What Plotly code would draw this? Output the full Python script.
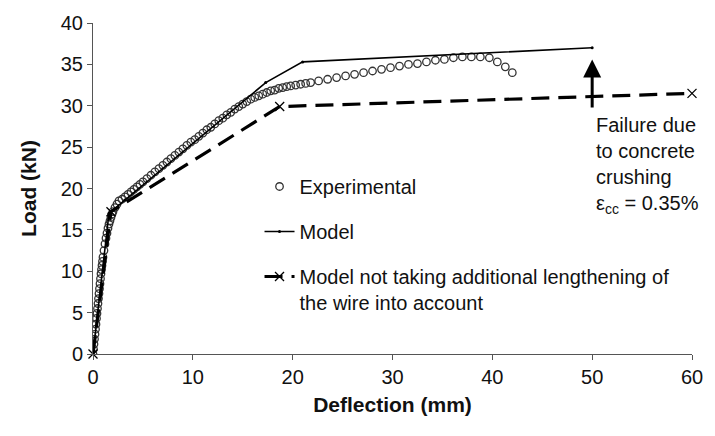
import plotly.graph_objects as go

# Experimental data (deflection mm, load kN)
exp_x = [0.0, 0.05, 0.1, 0.15, 0.2, 0.25, 0.3, 0.35, 0.4, 0.45, 0.5, 0.55, 0.6, 0.65, 0.7, 0.75,
         0.8, 0.85, 0.9, 0.95, 1.0, 1.1, 1.2, 1.3, 1.4, 1.5, 1.6, 1.7, 1.8, 1.9, 2.0, 2.2, 2.4, 2.6,
         2.9, 3.2, 3.5, 3.8, 4.1, 4.4, 4.7, 5.0, 5.4, 5.8, 6.2, 6.6, 7.0, 7.4, 7.8, 8.2, 8.6, 9.0,
         9.4, 9.8, 10.2, 10.6, 11.0, 11.4, 11.8, 12.2, 12.6, 13.0, 13.4, 13.8, 14.2, 14.6, 15.0,
         15.4, 15.8, 16.2, 16.6, 17.0, 17.4, 17.8, 18.2, 18.6, 19.0, 19.4, 19.8, 20.3, 20.8, 21.3,
         21.8, 22.6, 23.5, 24.4, 25.3, 26.2, 27.1, 28.0, 28.9, 29.8, 30.7, 31.6, 32.5, 33.4, 34.3,
         35.2, 36.1, 37.0, 37.9, 38.8, 39.7, 40.5, 41.3, 42.0]
exp_y = [0.0, 0.6, 1.2, 1.8, 2.4, 3.0, 3.6, 4.3, 4.9, 5.5, 6.1, 6.7, 7.3, 7.9, 8.5, 9.1,
         9.7, 10.2, 10.7, 11.2, 11.7, 12.5, 13.3, 14.0, 14.6, 15.2, 15.7, 16.1, 16.5, 16.9, 17.2, 17.7, 18.1, 18.5,
         18.7, 19.0, 19.3, 19.6, 19.9, 20.2, 20.5, 20.8, 21.2, 21.6, 22.0, 22.4, 22.8, 23.2, 23.6, 24.0, 24.4, 24.8,
         25.2, 25.6, 25.9, 26.3, 26.7, 27.1, 27.4, 27.8, 28.2, 28.5, 28.9, 29.2, 29.6, 29.9, 30.2,
         30.5, 30.8, 31.0, 31.2, 31.4, 31.6, 31.8, 31.9, 32.1, 32.2, 32.3, 32.4, 32.5, 32.6, 32.7,
         32.8, 33.0, 33.2, 33.4, 33.6, 33.8, 34.0, 34.2, 34.4, 34.6, 34.8, 35.0, 35.1, 35.3, 35.5,
         35.6, 35.8, 35.9, 35.9, 35.9, 35.8, 35.3, 34.7, 34.0]

# Model
model_x = [0.0, 1.6, 3.2, 17.3, 21.0, 50.0]
model_y = [0.0, 17.0, 18.6, 32.8, 35.3, 37.0]

# Model not taking additional lengthening of the wire into account
model2_x = [0.0, 1.8, 18.7, 60.0]
model2_y = [0.0, 17.2, 29.9, 31.5]

FONT = "Liberation Sans, Arial, sans-serif"

fig = go.Figure()
fig.add_trace(go.Scatter(
    x=exp_x, y=exp_y, mode="markers", name="Experimental", legendgroup="a",
    marker=dict(symbol="circle-open", size=7.5, color="#333333", line=dict(width=1.3)),
))
fig.add_trace(go.Scatter(
    x=model_x, y=model_y, mode="lines+markers", name="Model", legendgroup="b",
    line=dict(color="black", width=1.6),
    marker=dict(symbol="circle", size=3, color="black"),
))
fig.add_trace(go.Scatter(
    x=model2_x, y=model2_y, mode="lines+markers", cliponaxis=False,
    name="Model not taking additional lengthening of<br>the wire into account", legendgroup="c",
    line=dict(color="black", width=3.2, dash="18px,9px"),
    marker=dict(symbol="x-thin", size=9, color="black", line=dict(width=1.3, color="black")),
))

fig.add_annotation(
    x=50, y=35.6, ax=50, ay=29.6, xref="x", yref="y", axref="x", ayref="y",
    showarrow=True, arrowhead=2, arrowwidth=3, arrowsize=1.2, arrowcolor="black", text="",
)
fig.add_annotation(
    x=50.2, y=29.3, xref="x", yref="y", xanchor="left", yanchor="top", align="left",
    showarrow=False,
    text="Failure due<br>to concrete<br>crushing<br>ε<sub>cc</sub> = 0.35%",
    font=dict(family=FONT, size=20, color="#111"),
)

fig.update_layout(
    width=715, height=436,
    margin=dict(l=93, r=17, t=23, b=82),
    paper_bgcolor="white", plot_bgcolor="white",
    font=dict(family=FONT, size=20, color="#111"),
    showlegend=True,
    legend=dict(
        x=0.278, y=0.565, xanchor="left", yanchor="top",
        bgcolor="rgba(0,0,0,0)", font=dict(family=FONT, size=20, color="#111"),
        traceorder="grouped", tracegroupgap=16, valign="top",
    ),
    xaxis=dict(
        range=[0, 60], dtick=10, tick0=0, showgrid=False, zeroline=False,
        showline=True, linecolor="#555", linewidth=1,
        ticks="outside", ticklen=5, tickcolor="#555",
        tickfont=dict(family=FONT, size=20, color="#111"),
        title=dict(text="<b>Deflection (mm)</b>", font=dict(family=FONT, size=21, color="#111"), standoff=10),
    ),
    yaxis=dict(
        range=[0, 40], dtick=5, tick0=0, showgrid=False, zeroline=False,
        showline=True, linecolor="#555", linewidth=1,
        ticks="outside", ticklen=5, tickcolor="#555",
        tickfont=dict(family=FONT, size=20, color="#111"),
        title=dict(text="<b>Load (kN)</b>", font=dict(family=FONT, size=21, color="#111"), standoff=18),
    ),
)

fig.write_html("out.html")
